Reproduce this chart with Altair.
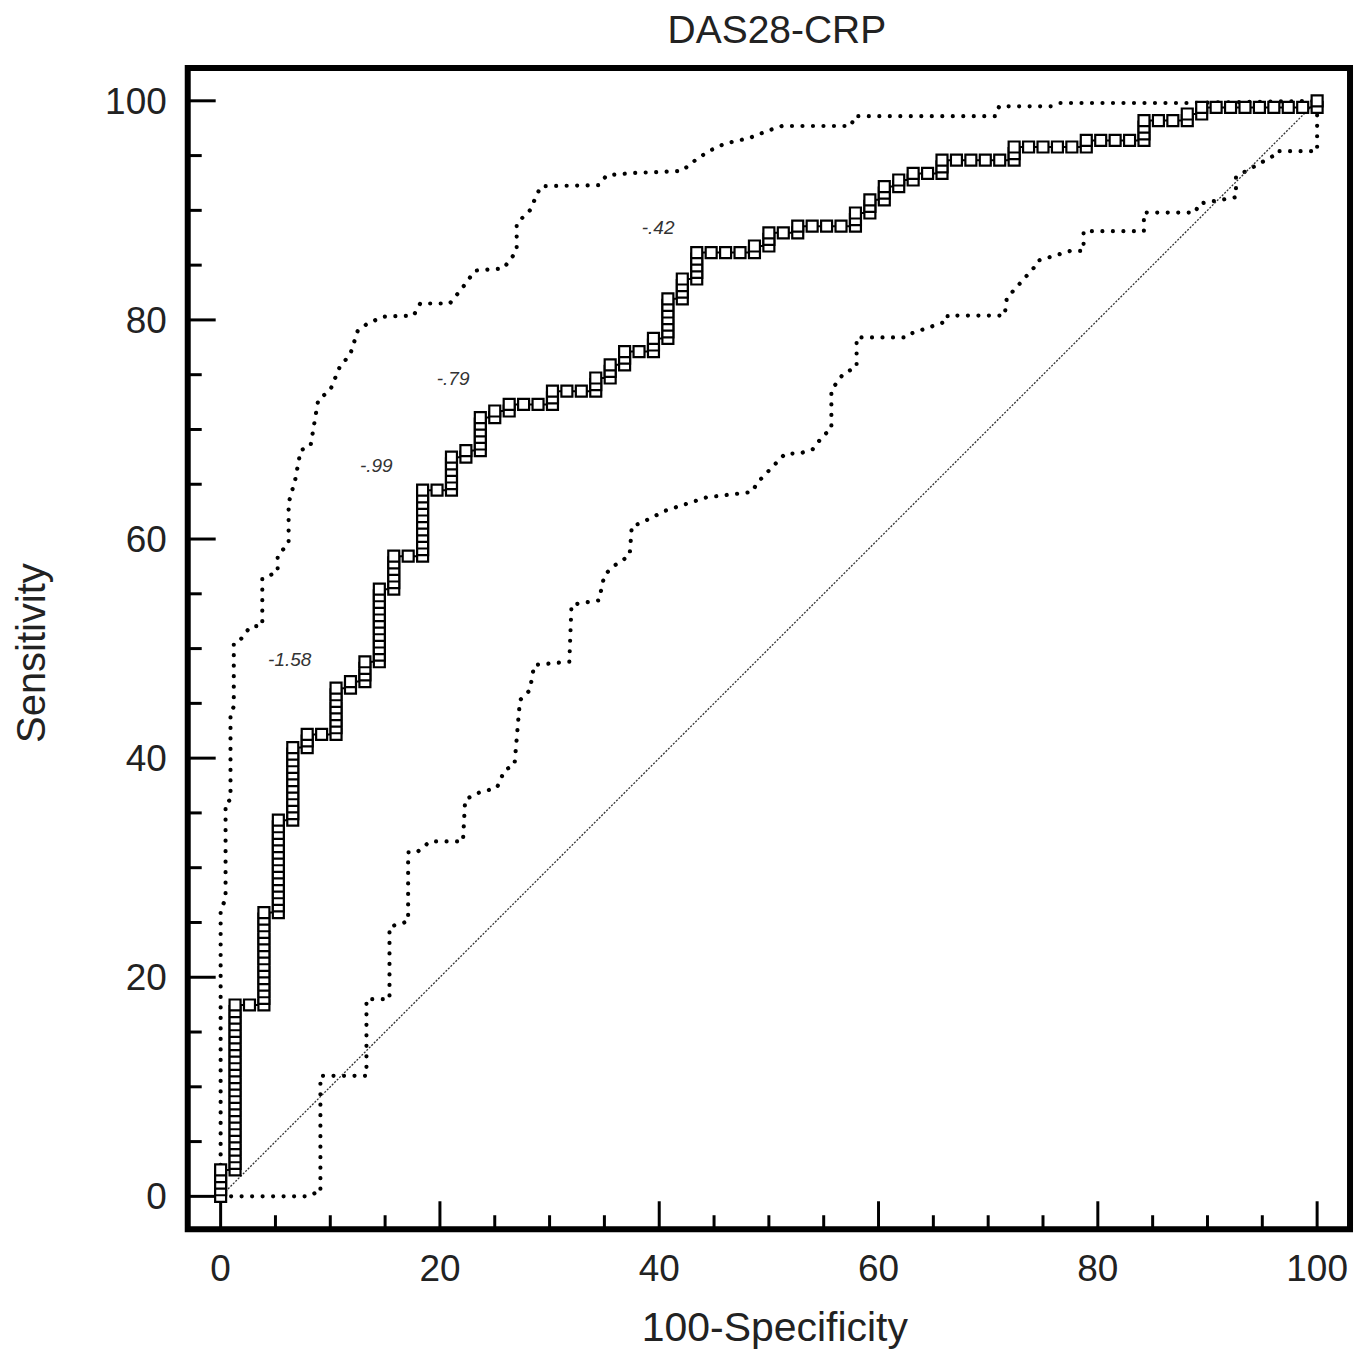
import altair as alt
import pandas as pd

# ---------------- data ----------------
N_NEG = 76    # number of negative cases (x steps)
N_POS = 166   # number of positive cases (y steps)

# ROC points as (false-positive count, true-positive count)
roc_points = [
    (0, 0), (0, 1), (0, 2), (0, 3), (0, 4),
    (1, 4), (1, 5), (1, 6), (1, 7), (1, 8), (1, 9), (1, 10), (1, 11), (1, 12), (1, 13), (1, 14), (1, 15), (1, 16),
    (1, 17), (1, 18), (1, 19), (1, 20), (1, 21), (1, 22), (1, 23), (1, 24), (1, 25), (1, 26), (1, 27), (1, 28), (1, 29),
    (2, 29),
    (3, 29), (3, 30), (3, 31), (3, 32), (3, 33), (3, 34), (3, 35), (3, 36), (3, 37), (3, 38), (3, 39), (3, 40), (3, 41), (3, 42), (3, 43),
    (4, 43), (4, 44), (4, 45), (4, 46), (4, 47), (4, 48), (4, 49), (4, 50), (4, 51), (4, 52), (4, 53), (4, 54), (4, 55), (4, 56), (4, 57),
    (5, 57), (5, 58), (5, 59), (5, 60), (5, 61), (5, 62), (5, 63), (5, 64), (5, 65), (5, 66), (5, 67), (5, 68),
    (6, 68), (6, 69), (6, 70),
    (7, 70),
    (8, 70), (8, 71), (8, 72), (8, 73), (8, 74), (8, 75), (8, 76), (8, 77),
    (9, 77), (9, 78),
    (10, 78), (10, 79), (10, 80), (10, 81),
    (11, 81), (11, 82), (11, 83), (11, 84), (11, 85), (11, 86), (11, 87), (11, 88), (11, 89), (11, 90), (11, 91), (11, 92),
    (12, 92), (12, 93), (12, 94), (12, 95), (12, 96), (12, 97),
    (13, 97),
    (14, 97), (14, 98), (14, 99), (14, 100), (14, 101), (14, 102), (14, 103), (14, 104), (14, 105), (14, 106), (14, 107),
    (15, 107),
    (16, 107), (16, 108), (16, 109), (16, 110), (16, 111), (16, 112),
    (17, 112), (17, 113),
    (18, 113), (18, 114), (18, 115), (18, 116), (18, 117), (18, 118),
    (19, 118), (19, 119),
    (20, 119), (20, 120),
    (21, 120), (22, 120),
    (23, 120), (23, 121), (23, 122),
    (24, 122), (25, 122),
    (26, 122), (26, 123), (26, 124),
    (27, 124), (27, 125), (27, 126),
    (28, 126), (28, 127), (28, 128),
    (29, 128),
    (30, 128), (30, 129), (30, 130),
    (31, 130), (31, 131), (31, 132), (31, 133), (31, 134), (31, 135), (31, 136),
    (32, 136), (32, 137), (32, 138), (32, 139),
    (33, 139), (33, 140), (33, 141), (33, 142), (33, 143),
    (34, 143), (35, 143), (36, 143),
    (37, 143), (37, 144),
    (38, 144), (38, 145), (38, 146),
    (39, 146),
    (40, 146), (40, 147),
    (41, 147), (42, 147), (43, 147),
    (44, 147), (44, 148), (44, 149),
    (45, 149), (45, 150), (45, 151),
    (46, 151), (46, 152), (46, 153),
    (47, 153), (47, 154),
    (48, 154), (48, 155),
    (49, 155),
    (50, 155), (50, 156), (50, 157),
    (51, 157), (52, 157), (53, 157), (54, 157),
    (55, 157), (55, 158), (55, 159),
    (56, 159), (57, 159), (58, 159), (59, 159),
    (60, 159), (60, 160),
    (61, 160), (62, 160), (63, 160),
    (64, 160), (64, 161), (64, 162), (64, 163),
    (65, 163), (66, 163),
    (67, 163), (67, 164),
    (68, 164), (68, 165),
    (69, 165), (70, 165), (71, 165), (72, 165), (73, 165), (74, 165), (75, 165),
    (76, 165), (76, 166),
]

# 95% confidence band vertices (x = 100-Specificity, y = Sensitivity)
upper_band = [
    (0, 0), (0, 26.2), (0.45, 27.1), (0.45, 35.9), (0.9, 36.2), (0.9, 44.1), (1.2, 44.7), (1.2, 50.5),
    (1.8, 50.8), (2.7, 52.0), (3.8, 52.1), (3.8, 56.4), (5.2, 57.0), (5.2, 58.5), (6.2, 59.6), (6.2, 63.3),
    (6.8, 65.4), (7.3, 68.1), (8.2, 68.5), (8.9, 72.7), (10.0, 73.6), (10.9, 75.8), (11.8, 76.8), (12.5, 79.0),
    (13.3, 79.6), (14.8, 80.3), (17.6, 80.4), (18.2, 81.5), (20.9, 81.5), (22.1, 83.0), (23.2, 84.5), (25.8, 84.7),
    (27.0, 86.3), (27.0, 88.8), (28.2, 90.0), (29.2, 92.2), (34.5, 92.3), (35.2, 93.2), (37.5, 93.4), (42.1, 93.6),
    (42.9, 94.3), (44.5, 95.4), (46.0, 96.1), (48.2, 96.6), (50.0, 97.3), (51.2, 97.7), (57.5, 97.7), (57.8, 98.6),
    (70.7, 98.6), (71.0, 99.5), (75.7, 99.5), (76.5, 99.8), (88.0, 99.8), (100, 100),
]
lower_band = [
    (0, 0), (8.0, 0), (8.6, 0.3), (9.1, 0.3), (9.1, 11.0), (13.3, 11.0), (13.3, 18.0), (15.4, 18.0),
    (15.4, 24.6), (17.1, 25.1), (17.1, 31.4), (17.9, 31.4), (19.1, 32.4), (22.1, 32.4), (22.3, 36.2), (23.4, 36.8),
    (25.2, 37.3), (25.9, 38.9), (26.8, 39.4), (27.3, 45.3), (28.2, 46.2), (28.6, 48.5), (31.8, 48.8), (32.0, 54.0),
    (34.5, 54.4), (35.0, 56.7), (35.8, 57.5), (37.3, 58.5), (37.5, 61.2), (38.2, 61.4), (40.6, 62.6), (44.3, 63.8),
    (48.5, 64.3), (48.9, 65.1), (51.5, 67.8), (52.8, 67.8), (54.0, 68.2), (55.0, 69.5), (55.7, 70.0), (55.7, 73.6),
    (56.8, 75.1), (58.0, 75.7), (58.0, 78.4), (62.5, 78.4), (62.8, 78.7), (66.3, 79.9), (66.3, 80.4), (71.5, 80.4),
    (71.7, 82.0), (72.6, 83.0), (74.2, 84.8), (74.5, 85.4), (77.5, 86.3), (78.7, 86.3), (78.7, 88.1), (84.2, 88.1),
    (84.2, 89.8), (88.9, 89.8), (89.2, 90.6), (92.6, 91.2), (92.6, 93.0), (93.0, 93.3), (96.4, 95.2), (96.4, 95.4),
    (100, 95.4), (100, 100),
]

diag_x = [0, 100]
diag_y = [0, 100]

ann_text = ["-1.58", "-.99", "-.79", "-.42"]
ann_x = [6.3, 14.2, 21.2, 39.9]
ann_y = [49.0, 66.7, 74.6, 88.4]

major_ticks = [0, 20, 40, 60, 80, 100]
major_labels = ["0", "20", "40", "60", "80", "100"]
minor_ticks = [5, 10, 15, 25, 30, 35, 45, 50, 55, 65, 70, 75, 85, 90, 95]

chart_title = "DAS28-CRP"
x_title = ["100-Specificity"]
y_title = ["Sensitivity"]

# ---------------- tables ----------------
FONT = "Liberation Sans"
TXT = "#222222"
W, H = 1164, 1163

roc_df = pd.DataFrame({
    "x": [100.0 * p[0] / N_NEG for p in roc_points],
    "y": [100.0 * p[1] / N_POS for p in roc_points],
    "i": list(range(len(roc_points))),
})
band_rows = []
for name, pts in (("upper", upper_band), ("lower", lower_band)):
    for k, (bx, by) in enumerate(pts):
        band_rows.append({"band": name, "x": bx, "y": by, "i": k})
band_df = pd.DataFrame(band_rows)
diag_df = pd.DataFrame({"x": diag_x, "y": diag_y})
ann_df = pd.DataFrame({"label": ann_text, "x": ann_x, "y": ann_y})
minor_df = pd.DataFrame({"t": minor_ticks})
major_df = pd.DataFrame({"t": major_ticks, "lab": major_labels})
xt_df = pd.DataFrame({"lab": x_title})
yt_df = pd.DataFrame({"lab": y_title})

xs = alt.Scale(domain=[-3, 103], nice=False, zero=False)
ys = alt.Scale(domain=[-3, 103], nice=False, zero=False)


def X(field):
    return alt.X(field, scale=xs, axis=None)


def Y(field):
    return alt.Y(field, scale=ys, axis=None)


bands = alt.Chart(band_df).mark_line(
    color="black", strokeWidth=4.2, strokeDash=[0.01, 10.5], strokeCap="round"
).encode(x=X("x:Q"), y=Y("y:Q"), detail="band:N", order="i:Q")

diag = alt.Chart(diag_df).mark_line(color="#333333", strokeWidth=1.3, strokeDash=[2, 1.5]).encode(
    x=X("x:Q"), y=Y("y:Q")
)

# tick marks drawn inward from the frame
minor_y = alt.Chart(minor_df).mark_rule(color="black", strokeWidth=3).encode(
    y=Y("t:Q"), x=alt.value(0), x2=alt.value(14)
)
minor_x = alt.Chart(minor_df).mark_rule(color="black", strokeWidth=3).encode(
    x=X("t:Q"), y=alt.value(H), y2=alt.value(H - 14)
)
major_y = alt.Chart(major_df).mark_rule(color="black", strokeWidth=3).encode(
    y=Y("t:Q"), x=alt.value(0), x2=alt.value(28)
)
major_x = alt.Chart(major_df).mark_rule(color="black", strokeWidth=3).encode(
    x=X("t:Q"), y=alt.value(H), y2=alt.value(H - 28)
)

# tick labels
ylab = alt.Chart(major_df).mark_text(
    font=FONT, fontSize=37, color=TXT, align="right", baseline="alphabetic", dy=13
).encode(y=Y("t:Q"), x=alt.value(-21), text="lab:N")
xlab = alt.Chart(major_df).mark_text(
    font=FONT, fontSize=37, color=TXT, align="center", baseline="alphabetic"
).encode(x=X("t:Q"), y=alt.value(H + 52), text="lab:N")

# axis titles
xtitle = alt.Chart(xt_df).mark_text(
    font=FONT, fontSize=41, color=TXT, align="center", baseline="alphabetic"
).encode(x=alt.value(588), y=alt.value(H + 112), text="lab:N")
ytitle = alt.Chart(yt_df).mark_text(
    font=FONT, fontSize=40, color=TXT, align="center", baseline="alphabetic", angle=270
).encode(x=alt.value(-143), y=alt.value(586), text="lab:N")

roc_line = alt.Chart(roc_df).mark_line(color="black", strokeWidth=2).encode(
    x=X("x:Q"), y=Y("y:Q"), order="i:Q"
)
roc_pts = alt.Chart(roc_df).mark_point(
    shape="square", size=121, filled=True, fill="white", stroke="black",
    strokeWidth=2.2, opacity=1,
).encode(x=X("x:Q"), y=Y("y:Q"))

ann = alt.Chart(ann_df).mark_text(
    font=FONT, fontSize=19, fontStyle="italic", color="#333333"
).encode(x=X("x:Q"), y=Y("y:Q"), text="label:N")

chart = alt.layer(
    bands, diag, minor_x, minor_y, major_x, major_y, roc_line, roc_pts, ann,
    xlab, ylab, xtitle, ytitle,
).properties(
    width=W,
    height=H,
    title=alt.TitleParams(
        chart_title, font=FONT, fontSize=39, fontWeight="normal", color=TXT,
        anchor="middle", frame="group", offset=17, dx=8,
    ),
    autosize=alt.AutoSizeParams(type="none"),
    padding={"left": 180, "top": 59, "right": 12, "bottom": 170},
).configure_view(stroke="black", strokeWidth=6)

chart.save("out.html", embed_options={"renderer": "svg", "actions": False})
